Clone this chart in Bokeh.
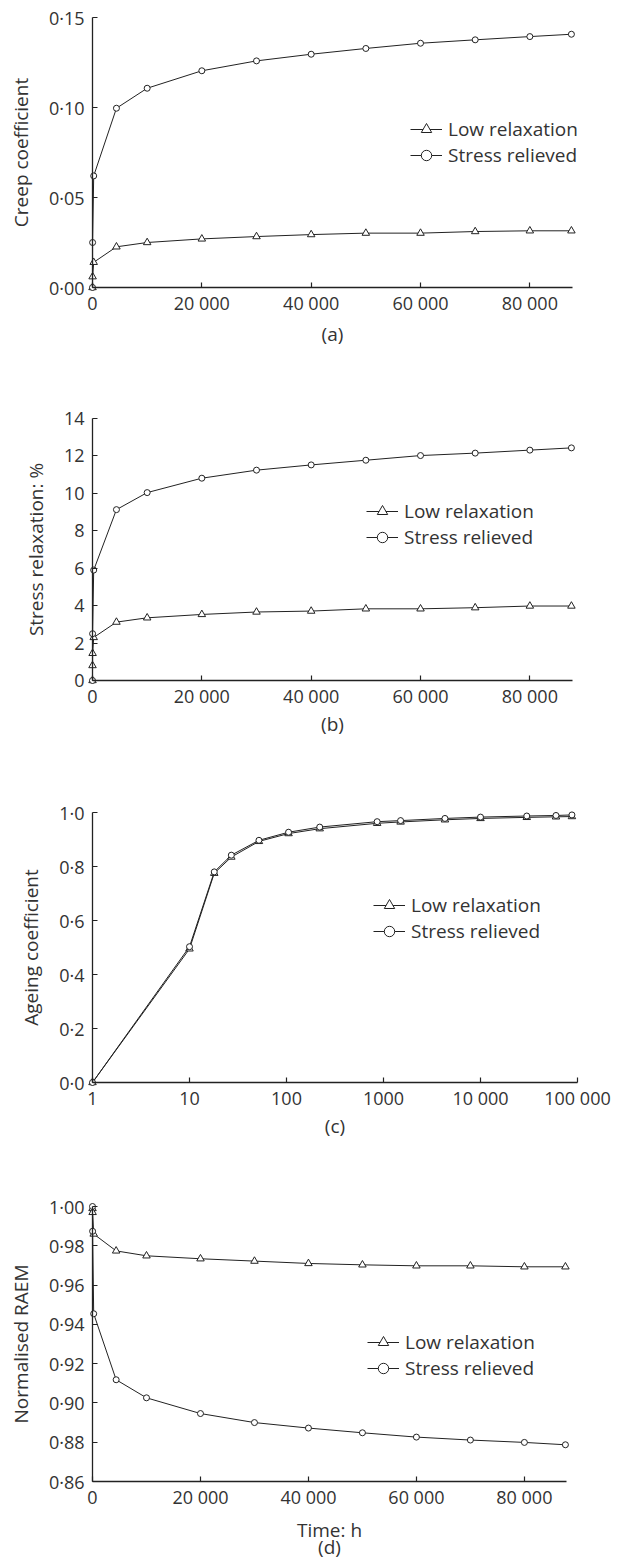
import math
from bokeh.plotting import figure
from bokeh.layouts import column
from bokeh.models import (Range1d, FixedTicker, Legend, LegendItem, LinearAxis, LogAxis,
                          CustomJSTickFormatter, Title)
from bokeh.embed import file_html
from bokeh.resources import INLINE

# ---------------- data ----------------
series_names = ["Low relaxation", "Stress relieved"]

# (a) creep coefficient vs time (h)
time_a_low = [0, 20, 220, 4380, 10000, 20000, 30000, 40000, 50000, 60000, 70000, 80000, 87600]
creep_low = [0.000, 0.006, 0.014, 0.0226, 0.0250, 0.0270, 0.0283, 0.0294, 0.0302, 0.0302, 0.0311, 0.0315, 0.0315]
time_a_sr = [0, 20, 220, 4380, 10000, 20000, 30000, 40000, 50000, 60000, 70000, 80000, 87600]
creep_sr = [0.000, 0.025, 0.062, 0.0996, 0.1107, 0.1204, 0.1259, 0.1296, 0.1328, 0.1357, 0.1376, 0.1394, 0.1407]

# (b) stress relaxation (%) vs time (h)
time_b_low = [0, 1, 20, 220, 4380, 10000, 20000, 30000, 40000, 50000, 60000, 70000, 80000, 87600]
relax_low = [0.0, 0.8, 1.45, 2.3, 3.12, 3.35, 3.53, 3.66, 3.71, 3.83, 3.83, 3.89, 3.98, 3.98]
time_b_sr = [0, 20, 220, 4380, 10000, 20000, 30000, 40000, 50000, 60000, 70000, 80000, 87600]
relax_sr = [0.0, 2.5, 5.9, 9.13, 10.04, 10.81, 11.24, 11.52, 11.77, 12.02, 12.15, 12.31, 12.43]

# (c) ageing coefficient vs time (h, log axis)
time_c = [1, 10, 18, 27, 52, 105, 220, 860, 1500, 4300, 10000, 30000, 60000, 87600]
ageing_low = [0.0, 0.495, 0.775, 0.835, 0.893, 0.922, 0.940, 0.960, 0.965, 0.973, 0.978, 0.982, 0.984, 0.985]
ageing_sr = [0.0, 0.503, 0.780, 0.842, 0.897, 0.927, 0.946, 0.966, 0.970, 0.978, 0.983, 0.987, 0.989, 0.991]

# (d) normalised RAEM vs time (h)
time_d = [0, 20, 220, 4380, 10000, 20000, 30000, 40000, 50000, 60000, 70000, 80000, 87600]
raem_low = [0.999, 0.997, 0.986, 0.9774, 0.9749, 0.9734, 0.9722, 0.9710, 0.9703, 0.9698, 0.9698, 0.9693, 0.9693]
raem_sr = [1.000, 0.9874, 0.9454, 0.9118, 0.9026, 0.8946, 0.8900, 0.8872, 0.8848, 0.8826, 0.8811, 0.8799, 0.8787]

# axis ticks / labels
lin_x_ticks = [0, 20000, 40000, 60000, 80000]
log_x_ticks = [1, 10, 100, 1000, 10000, 100000]
ticks_a = [0, 0.05, 0.10, 0.15]
ticks_b = [0, 2, 4, 6, 8, 10, 12, 14]
ticks_c = [0, 0.2, 0.4, 0.6, 0.8, 1.0]
ticks_d = [0.86, 0.88, 0.90, 0.92, 0.94, 0.96, 0.98, 1.00]
y_labels = ["Creep coefficient", "Stress relaxation: %", "Ageing coefficient", "Normalised RAEM"]
x_labels = ["(a)", "(b)", "(c)", "Time: h"]
caption_d = "(d)"

# ---------------- style ----------------
FONT = "Open Sans"
FS_TICK = "18px"
FS = "19px"
TXT = "#333333"
INK = "#222222"
PAD = 6  # px of frame beyond the axes so edge markers are not cut
FIG_W = 630
LEFT = 92

x_fmt = CustomJSTickFormatter(code="""
var s = Math.round(tick).toString();
if (Math.abs(tick) >= 10000) { s = s.replace(/\\B(?=(\\d{3})+(?!\\d))/g, ' '); }
return s;
""")


def y_fmt(dec):
    return CustomJSTickFormatter(args=dict(d=dec),
                                 code="return tick.toFixed(d).replace('.', '\u00b7');")


def line_axis(ax):
    # axis drawn exactly at the data origin: line + inward ticks only
    ax.major_tick_in = 5
    ax.major_tick_out = 0
    ax.minor_tick_line_color = None
    ax.axis_line_color = INK
    ax.axis_line_width = 1.3
    ax.major_tick_line_color = INK
    ax.major_tick_line_width = 1.2
    ax.major_label_text_color = None
    ax.axis_label = None


def label_axis(ax, standoff, lab_standoff):
    # axis at frame edge: only tick labels and axis title
    ax.axis_line_color = None
    ax.major_tick_line_color = None
    ax.minor_tick_line_color = None
    ax.major_tick_in = 0
    ax.major_tick_out = 0
    ax.major_label_text_font = FONT
    ax.major_label_text_font_size = FS_TICK
    ax.major_label_text_color = TXT
    ax.major_label_standoff = standoff
    ax.axis_label_text_font = FONT
    ax.axis_label_text_font_size = FS
    ax.axis_label_text_font_style = "normal"
    ax.axis_label_text_color = TXT
    ax.axis_label_standoff = lab_standoff


def panel(xl, yl, xs, ys, x0, x1, y0, y1, yticks, ydec, ylab, xlab,
          axw, axh, btop, bbot, leg_loc, xlab_standoff, log=False):
    if log:
        ppd = axw / (math.log10(x1) - math.log10(x0))
        xr = Range1d(10 ** (math.log10(x0) - PAD / ppd), 10 ** (math.log10(x1) + PAD / ppd))
    else:
        ppu = axw / (x1 - x0)
        xr = Range1d(x0 - PAD / ppu, x1 + PAD / ppu)
    ppy = axh / (y1 - y0)
    yr = Range1d(y0 - PAD / ppy, y1 + PAD / ppy)
    fw = axw + 2 * PAD
    p = figure(frame_width=fw, frame_height=axh + 2 * PAD,
               x_axis_type="log" if log else "linear",
               x_axis_location=None, y_axis_location=None,
               x_range=xr, y_range=yr,
               toolbar_location=None, output_backend="svg",
               min_border_left=LEFT - PAD, min_border_right=FIG_W - (LEFT - PAD) - fw,
               min_border_top=btop, min_border_bottom=bbot)
    p.outline_line_color = None
    p.grid.visible = False
    p.background_fill_color = "white"
    p.border_fill_color = "white"

    AxisCls = LogAxis if log else LinearAxis
    xt = log_x_ticks if log else lin_x_ticks
    # labels (frame edge)
    xa_lab = AxisCls(ticker=FixedTicker(ticks=xt), formatter=x_fmt, axis_label=xlab)
    label_axis(xa_lab, 3 - PAD, xlab_standoff)
    p.add_layout(xa_lab, "below")
    ya_lab = LinearAxis(ticker=FixedTicker(ticks=yticks), formatter=y_fmt(ydec), axis_label=ylab)
    label_axis(ya_lab, 8 - PAD, 12)
    p.add_layout(ya_lab, "left")
    # lines (at data origin)
    xa = AxisCls(fixed_location=y0, bounds=(x0, x1), ticker=FixedTicker(ticks=xt))
    line_axis(xa)
    p.add_layout(xa, "below")
    ya = LinearAxis(fixed_location=x0, bounds=(y0, y1), ticker=FixedTicker(ticks=yticks))
    line_axis(ya)
    p.add_layout(ya, "left")

    l1 = p.line(xl, yl, line_color=INK, line_width=1)
    s1 = p.scatter(xl, yl, marker="triangle", size=7.5, line_color=INK, fill_color="white", line_width=1)
    l2 = p.line(xs, ys, line_color=INK, line_width=1)
    s2 = p.scatter(xs, ys, marker="circle", size=6, line_color=INK, fill_color="white", line_width=1)

    leg = Legend(items=[LegendItem(label=series_names[0], renderers=[l1, s1]),
                        LegendItem(label=series_names[1], renderers=[l2, s2])],
                 location=leg_loc, padding=0, margin=0, spacing=0,
                 glyph_width=32, glyph_height=26, label_height=26, label_standoff=6,
                 border_line_color=None, background_fill_alpha=0,
                 label_text_font=FONT, label_text_font_size=FS, label_text_color=TXT)
    p.add_layout(leg)
    return p


pa = panel(time_a_low, creep_low, time_a_sr, creep_sr, 0, 87800, 0, 0.15, ticks_a, 2,
           y_labels[0], x_labels[0], 480, 270, 11, 80, (324, 125), 3)
pb = panel(time_b_low, relax_low, time_b_sr, relax_sr, 0, 87800, 0, 14, ticks_b, 0,
           y_labels[1], x_labels[1], 480, 262, 39, 80, (280, 136), 0)
pc = panel(time_c, ageing_low, time_c, ageing_sr, 1, 100000, 0, 1.0, ticks_c, 1,
           y_labels[2], x_labels[2], 485, 270, 40, 80, (287, 144), 0, log=True)
pd = panel(time_d, raem_low, time_d, raem_sr, 0, 87800, 0.86, 1.00, ticks_d, 2,
           y_labels[3], x_labels[3], 474, 275, 32, 74, (281, 106), 5)
# panel caption "(d)" under the axis title
pd.add_layout(Title(text=caption_d, align="center", text_font=FONT, text_font_size=FS,
                    text_font_style="normal", text_color=TXT, standoff=-28), "below")

layout = column(pa, pb, pc, pd, spacing=0)
open("out.html", "w").write(file_html(layout, INLINE))
